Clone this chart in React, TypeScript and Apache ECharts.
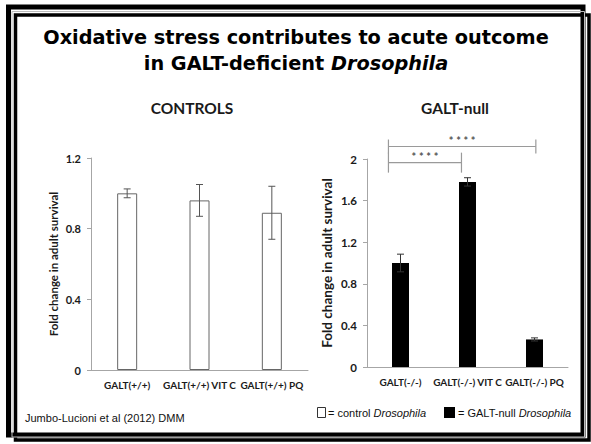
import { useEffect, useRef } from "react";
import * as echarts from "echarts";

const leftCategories = ["GALT(+/+)", "GALT(+/+) VIT C", "GALT(+/+) PQ"];
const leftValues = [1.0, 0.96, 0.89];
const leftErrors = [0.025, 0.09, 0.15];

const rightCategories = ["GALT(-/-)", "GALT(-/-) VIT C", "GALT(-/-) PQ"];
const rightValues = [1.0, 1.78, 0.265];
const rightErrors = [0.085, 0.04, 0.015];

// [fromIndex, fromOffset(band), toIndex, toOffset(band), level, label]
const brackets: [number, number, number, number, number, string][] = [
  [0, -0.18, 1, -0.09, 1.965, "****"],
  [0, -0.18, 2, 0.02, 2.12, "****"],
];

const AXIS_GRAY = "#a6a6a6";
const TEXT = "#1a1a1a";

function errorSeries(values: number[], errors: number[], idx: number, color: string) {
  return {
    type: "custom",
    xAxisIndex: idx,
    yAxisIndex: idx,
    z: 5,
    clip: false,
    data: values.map((v, i) => [i, v - errors[i], v + errors[i]]),
    encode: { x: 0, y: [1, 2] },
    renderItem: (_p: any, api: any) => {
      const x = api.value(0);
      const lo = api.coord([x, api.value(1)]);
      const hi = api.coord([x, api.value(2)]);
      const w = 3.5;
      const st = { stroke: color, lineWidth: 1 };
      return {
        type: "group",
        children: [
          { type: "line", shape: { x1: lo[0], y1: lo[1], x2: hi[0], y2: hi[1] }, style: st },
          { type: "line", shape: { x1: hi[0] - w, y1: hi[1], x2: hi[0] + w, y2: hi[1] }, style: st },
          { type: "line", shape: { x1: lo[0] - w, y1: lo[1], x2: lo[0] + w, y2: lo[1] }, style: st },
        ],
      };
    },
  };
}

const option: any = {
  animation: false,
  backgroundColor: "#fff",
  graphic: [
    { type: "rect", shape: { x: 8.5, y: 7, width: 574.5, height: 428 }, style: { fill: "none", stroke: "#000", lineWidth: 5 } },
    { type: "rect", shape: { x: 15.5, y: 15, width: 573.5, height: 425 }, style: { fill: "none", stroke: "#000", lineWidth: 3.5 } },
    { type: "rect", shape: { x: 12, y: 11.5, width: 572.5, height: 425.5 }, style: { fill: "none", stroke: "#bbb", lineWidth: 1 } },
    {
      type: "text",
      x: 296,
      y: 37,
      style: {
        text: "Oxidative stress contributes to acute outcome",
        fontFamily: "DejaVu Sans",
        fontWeight: "bold",
        fontSize: 19.3,
        fill: "#000",
        align: "center",
        verticalAlign: "middle",
      },
    },
    {
      type: "text",
      x: 296,
      y: 63,
      style: {
        text: "{n|in GALT-deficient }{i|Drosophila}",
        align: "center",
        verticalAlign: "middle",
        rich: {
          n: { fontFamily: "DejaVu Sans", fontWeight: "bold", fontSize: 19.3, fill: "#000" },
          i: { fontFamily: "DejaVu Sans", fontWeight: "bold", fontStyle: "italic", fontSize: 19.3, fill: "#000" },
        },
      },
    },
    {
      type: "text",
      x: 192,
      y: 108,
      style: { text: "CONTROLS", fontFamily: "Lato", fontWeight: "bold", fontSize: 15.5, fill: TEXT, align: "center", verticalAlign: "middle" },
    },
    {
      type: "text",
      x: 455,
      y: 108,
      style: { text: "GALT-null", fontFamily: "Lato", fontWeight: "bold", fontSize: 15.5, fill: TEXT, align: "center", verticalAlign: "middle" },
    },
    {
      type: "text",
      x: 25,
      y: 418,
      style: { text: "Jumbo-Lucioni et al (2012) DMM", fontFamily: "Liberation Sans", fontSize: 11, fill: "#111", verticalAlign: "middle" },
    },
    { type: "rect", shape: { x: 317.5, y: 407.5, width: 8, height: 10 }, style: { fill: "#fff", stroke: "#333", lineWidth: 1 } },
    {
      type: "text",
      x: 328,
      y: 412.5,
      style: {
        text: "{n|= control }{i|Drosophila}",
        verticalAlign: "middle",
        rich: {
          n: { fontFamily: "Liberation Sans", fontSize: 11, fill: "#111" },
          i: { fontFamily: "Liberation Sans", fontStyle: "italic", fontSize: 11, fill: "#111" },
        },
      },
    },
    { type: "rect", shape: { x: 444, y: 407, width: 11, height: 11 }, style: { fill: "#000" } },
    {
      type: "text",
      x: 458,
      y: 412.5,
      style: {
        text: "{n|= GALT-null }{i|Drosophila}",
        verticalAlign: "middle",
        rich: {
          n: { fontFamily: "Liberation Sans", fontSize: 11, fill: "#111" },
          i: { fontFamily: "Liberation Sans", fontStyle: "italic", fontSize: 11, fill: "#111" },
        },
      },
    },
  ],
  grid: [
    { left: 91, top: 158, width: 217, height: 212 },
    { left: 367, top: 159, width: 201, height: 208 },
  ],
  xAxis: [leftCategories, rightCategories].map((cats, i) => ({
    type: "category",
    gridIndex: i,
    data: cats,
    axisLine: { lineStyle: { color: AXIS_GRAY } },
    axisTick: { show: false },
    axisLabel: { interval: 0, margin: 10, fontFamily: "Lato", fontWeight: "bold", fontSize: 10, color: TEXT },
  })),
  yAxis: [
    { max: 1.2, fs: 11, nfs: 11.5, gap: 32 },
    { max: 2, fs: 11.5, nfs: 13.5, gap: 33 },
  ].map((c, i) => ({
    type: "value",
    gridIndex: i,
    min: 0,
    max: c.max,
    interval: 0.4,
    axisLine: { show: true, lineStyle: { color: AXIS_GRAY } },
    axisTick: { show: true, length: 4, lineStyle: { color: AXIS_GRAY } },
    splitLine: { show: false },
    axisLabel: { margin: 10, fontFamily: "Lato", fontWeight: "bold", fontSize: c.fs, color: TEXT },
    name: "Fold change in adult survival",
    nameLocation: "middle",
    nameRotate: 90,
    nameGap: c.gap,
    nameTextStyle: { fontFamily: "Lato", fontWeight: "bold", fontSize: c.nfs, color: TEXT },
  })),
  series: [
    {
      type: "bar",
      xAxisIndex: 0,
      yAxisIndex: 0,
      data: leftValues,
      barWidth: 20,
      itemStyle: { color: "#fff", borderColor: "#666", borderWidth: 1 },
    },
    {
      type: "bar",
      xAxisIndex: 1,
      yAxisIndex: 1,
      data: rightValues,
      barWidth: 17,
      itemStyle: { color: "#000" },
    },
    errorSeries(leftValues, leftErrors, 0, "#555"),
    errorSeries(rightValues, rightErrors, 1, "#333"),
    {
      type: "custom",
      xAxisIndex: 1,
      yAxisIndex: 1,
      z: 5,
      clip: false,
      data: brackets,
      renderItem: (params: any, api: any) => {
        const b = brackets[params.dataIndex];
        const band = api.size([1, 0])[0];
        const p0 = api.coord([b[0], b[4]]);
        const p1 = api.coord([b[2], b[4]]);
        const x0 = p0[0] + b[1] * band;
        const x1 = p1[0] + b[3] * band;
        const y = p0[1];
        const h = params.dataIndex === 0 ? 10 : 7;
        const st = { stroke: "#9a9a9a", lineWidth: 1.2 };
        return {
          type: "group",
          children: [
            { type: "line", shape: { x1: x0, y1: y, x2: x1, y2: y }, style: st },
            { type: "line", shape: { x1: x0, y1: y - h, x2: x0, y2: y + h }, style: st },
            { type: "line", shape: { x1: x1, y1: y - h, x2: x1, y2: y + h }, style: st },
            {
              type: "text",
              x: (x0 + x1) / 2,
              y: y - 6,
              style: { text: "* * * *", fill: "#555", fontFamily: "Lato", fontWeight: "bold", fontSize: 11, align: "center", verticalAlign: "middle" },
            },
          ],
        };
      },
    },
  ],
};

export default function App() {
  const ref = useRef<HTMLDivElement>(null);
  useEffect(() => {
    document.body.style.margin = "0";
    const chart = echarts.init(ref.current!, null, { renderer: "svg" });
    chart.setOption(option);
    return () => chart.dispose();
  }, []);
  return (
    <div
      ref={ref}
      style={{ position: "fixed", left: 0, top: 0, width: 591, height: 444, background: "#fff" }}
    />
  );
}
